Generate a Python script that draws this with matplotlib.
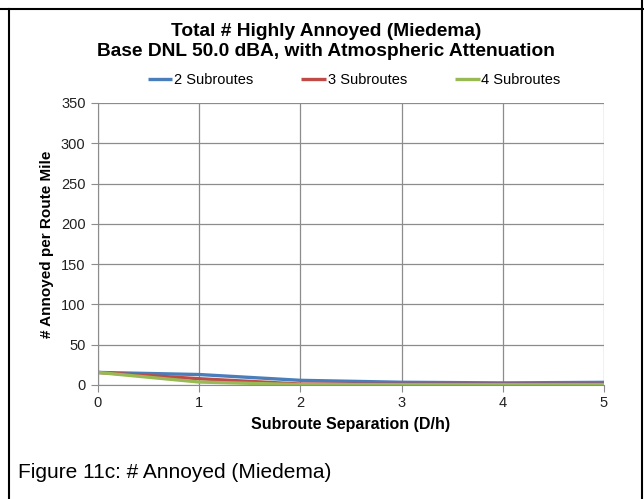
import numpy as np
import matplotlib.pyplot as plt
from matplotlib.lines import Line2D

plt.rcParams['font.family'] = ['Liberation Sans', 'DejaVu Sans']

# subroute separation (D/h) and annoyed counts per route mile
sep = [0, 1, 2, 3, 4, 5]
two_sub = [15.6, 13.0, 5.8, 3.4, 2.6, 3.3]
three_sub = [15.6, 7.8, 1.2, 1.0, 1.0, 1.0]
four_sub = [15.6, 3.7, 0.5, 0.4, 0.4, 0.4]
labels = ['2 Subroutes', '3 Subroutes', '4 Subroutes']
colors = ['#4A7EBB', '#BE4B48', '#98B954']

W, H = 644, 499
fig = plt.figure(figsize=(W / 100, H / 100), dpi=100)
ax = fig.add_axes([98 / W, 1 - 385 / H, (604 - 98) / W, (385 - 103) / H])

for vals, lab, c in zip([two_sub, three_sub, four_sub], labels, colors):
    ax.plot(sep, vals, color=c, lw=2.4, label=lab, solid_capstyle='butt')

ax.set_xlim(0, 5)
ax.set_ylim(0, 350)
ax.set_xticks(range(0, 6))
ax.set_yticks(range(0, 351, 50))
ax.grid(True, color='#8c8c8c', lw=0.9)
ax.set_axisbelow(True)
for s in ['top', 'right']:
    ax.spines[s].set_visible(False)
for s in ['left', 'bottom']:
    ax.spines[s].set_color('#8c8c8c')
ax.tick_params(length=5, color='#8c8c8c', labelsize=10.5, labelcolor='#222222')
ax.tick_params(axis='y', pad=4)
ax.tick_params(axis='x', pad=3)
ax.set_xlabel('Subroute Separation (D/h)', fontsize=11.5, fontweight='bold', labelpad=5)
ax.set_ylabel('# Annoyed per Route Mile', fontsize=11, fontweight='bold', labelpad=5)

fig.text(326 / W, 1 - 31 / H, 'Total # Highly Annoyed (Miedema)', ha='center', va='center',
         fontsize=13.8, fontweight='bold')
fig.text(326 / W, 1 - 51 / H, 'Base DNL 50.0 dBA, with Atmospheric Attenuation', ha='center',
         va='center', fontsize=13.8, fontweight='bold')
fig.legend(loc='center', bbox_to_anchor=(354 / W, 1 - 80 / H), ncol=3, frameon=False,
           fontsize=10.5, handlelength=1.7, handletextpad=0.1, columnspacing=3.3)

fig.text(18 / W, 1 - 472 / H, 'Figure 11c: # Annoyed (Miedema)', ha='left', va='center',
         fontsize=15)

# table borders around the figure cell
fig.add_artist(Line2D([0, 1], [1 - 9 / H, 1 - 9 / H], transform=fig.transFigure,
                      color='black', lw=1.5))
fig.add_artist(Line2D([9 / W, 9 / W], [0, 1 - 9 / H], transform=fig.transFigure,
                      color='black', lw=1.5))
fig.add_artist(Line2D([642 / W, 642 / W], [0, 1], transform=fig.transFigure,
                      color='black', lw=1.5))

fig.savefig('out.png', dpi=100)
